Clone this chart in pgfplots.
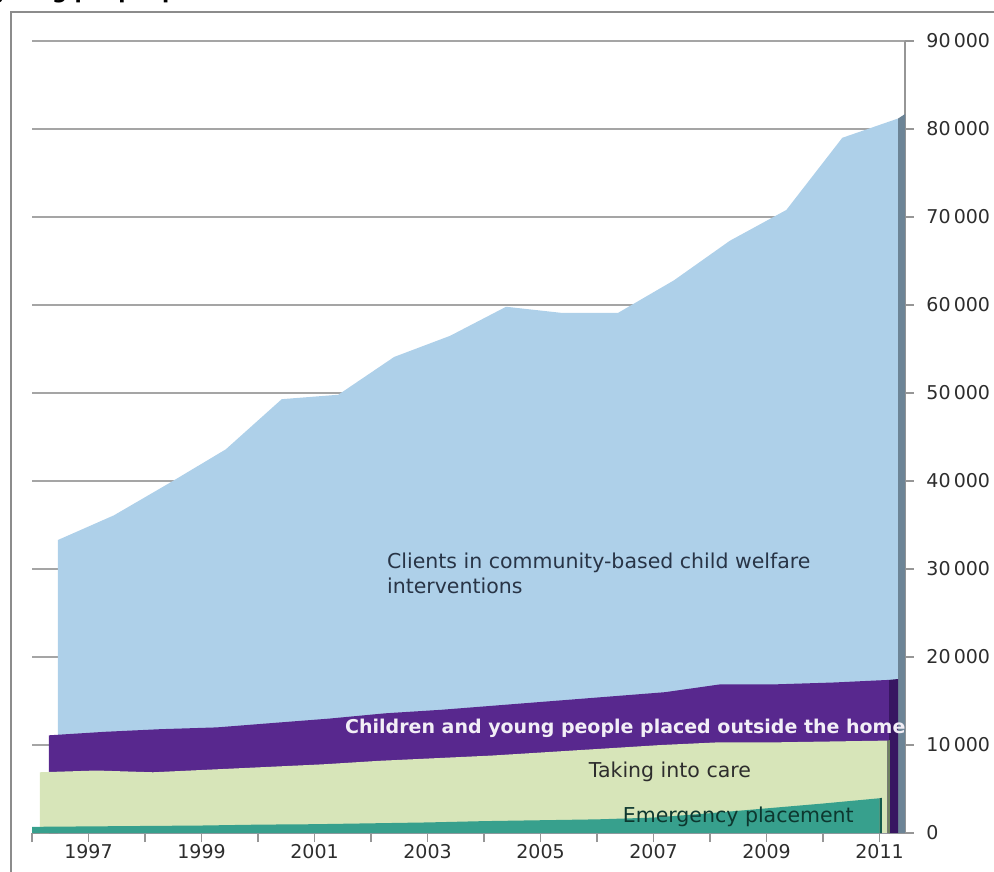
\documentclass[border=0pt]{standalone}
\usepackage{pgfplots}
\pgfplotsset{compat=1.18}
\usepackage{fontspec}
\setmainfont{DejaVu Sans}
\definecolor{cblue}{RGB}{174,208,233}
\definecolor{cblueside}{RGB}{108,132,150}
\definecolor{cpurple}{RGB}{88,40,142}
\definecolor{cpurpleside}{RGB}{56,22,98}
\definecolor{cgreen}{RGB}{215,229,185}
\definecolor{cgreenside}{RGB}{110,130,95}
\definecolor{cteal}{RGB}{55,160,141}
\definecolor{ctealside}{RGB}{22,92,78}
\definecolor{gridgray}{RGB}{165,165,165}
\definecolor{axisgray}{RGB}{150,150,150}
\definecolor{bordergray}{RGB}{140,140,140}
\definecolor{labelgray}{RGB}{45,45,45}
\definecolor{clienttext}{RGB}{40,52,70}

\pgfplotstableread{
x y
1996 700
1997 750
1998 800
1999 850
2000 950
2001 1000
2002 1100
2003 1200
2004 1350
2005 1450
2006 1550
2007 1750
2008 2250
2009 2800
2010 3350
2011 3950
}\emergency

\pgfplotstableread{
x y
1996.14 6900
1997.14 7100
1998.14 6900
1999.14 7200
2000.14 7500
2001.14 7800
2002.14 8200
2003.14 8500
2004.14 8800
2005.14 9200
2006.14 9600
2007.14 10000
2008.14 10300
2009.14 10300
2010.14 10400
2011.14 10500
}\takingcare

\pgfplotstableread{
x y
1996.30 11100
1997.29 11500
1998.28 11800
1999.27 12000
2000.26 12500
2001.26 13000
2002.25 13600
2003.24 14000
2004.23 14500
2005.22 15000
2006.21 15500
2007.20 16000
2008.19 16900
2009.19 16900
2010.18 17100
2011.17 17400
}\placed

\pgfplotstableread{
x y
1996.46 33300
1997.45 36100
1998.44 39800
1999.43 43600
2000.42 49300
2001.42 49800
2002.41 54100
2003.40 56500
2004.39 59800
2005.38 59100
2006.37 59100
2007.36 62800
2008.35 67300
2009.35 70800
2010.34 79000
2011.33 81200
}\clients

\begin{document}
\begin{tikzpicture}[x=1pt,y=1pt]
\useasboundingbox (0,0) rectangle (994,871);
\clip (0,0) rectangle (994,871);
\node[anchor=base west, inner sep=0pt, font=\bfseries\fontsize{21}{21}\selectfont] at (-6,872) {young people placed outside the home};
\draw[color=bordergray, line width=1.5pt] (11,-5) -- (11,859) -- (1000,859);
\begin{axis}[
  at={(32pt,38pt)}, anchor=south west,
  scale only axis, width=873pt, height=792pt,
  xmin=1996, xmax=2011.45, ymin=0, ymax=90000,
  axis x line*=bottom, axis y line*=right,
  axis line style={color=axisgray, line width=1.5pt},
  xtick={1997,1999,...,2011},
  xticklabels={1997,1999,2001,2003,2005,2007,2009,2011},
  minor xtick={1996,1998,...,2010},
  ytick={0,10000,...,90000},
  yticklabels={0,10\,000,20\,000,30\,000,40\,000,50\,000,60\,000,70\,000,80\,000,90\,000},
  scaled y ticks=false,
  tick align=outside,
  major tick length=9pt, minor tick length=9pt,
  tick style={color=axisgray, line width=1.3pt},
  ymajorgrids,
  major grid style={color=gridgray, line width=1.8pt},
  ticklabel style={font=\fontsize{19}{19}\selectfont, text=labelgray},
  yticklabel style={xshift=9pt},
  xticklabel style={yshift=1pt},
  clip=false,
]
\addplot[fill=cblue, draw=none] table {\clients} \closedcycle;
\addplot[fill=cblueside, draw=none] coordinates {(2011.33,0) (2011.33,81200) (2011.45,81700) (2011.45,0)} \closedcycle;
\addplot[fill=cpurple, draw=none] table {\placed} \closedcycle;
\addplot[fill=cpurpleside, draw=none] coordinates {(2011.17,0) (2011.17,17400) (2011.33,17500) (2011.33,0)} \closedcycle;
\addplot[fill=cgreen, draw=none] table {\takingcare} \closedcycle;
\addplot[fill=cgreenside, draw=none] coordinates {(2011.14,0) (2011.14,10500) (2011.18,10550) (2011.18,0)} \closedcycle;
\addplot[fill=cteal, draw=none] table {\emergency} \closedcycle;
\addplot[fill=ctealside, draw=none] coordinates {(2011.0,0) (2011.0,3950) (2011.04,4000) (2011.04,0)} \closedcycle;

\node[anchor=north west, align=left, inner sep=0pt, text=clienttext, font=\fontsize{20.5}{25}\selectfont]
  at (axis cs:2002.28,31850) {Clients in community-based child welfare\\interventions};
\node[text=white!92!cpurple, font=\bfseries\fontsize{19}{19}\selectfont, inner sep=0pt]
  at (axis cs:2006.50,11950) {Children and young people placed outside the home};
\node[text=labelgray, font=\fontsize{20.5}{20.5}\selectfont, inner sep=0pt]
  at (axis cs:2007.29,6950) {Taking into care};
\node[text=ctealside!60!black, font=\fontsize{20.5}{20.5}\selectfont, inner sep=0pt]
  at (axis cs:2008.50,1850) {Emergency placement};
\end{axis}
\end{tikzpicture}
\end{document}
